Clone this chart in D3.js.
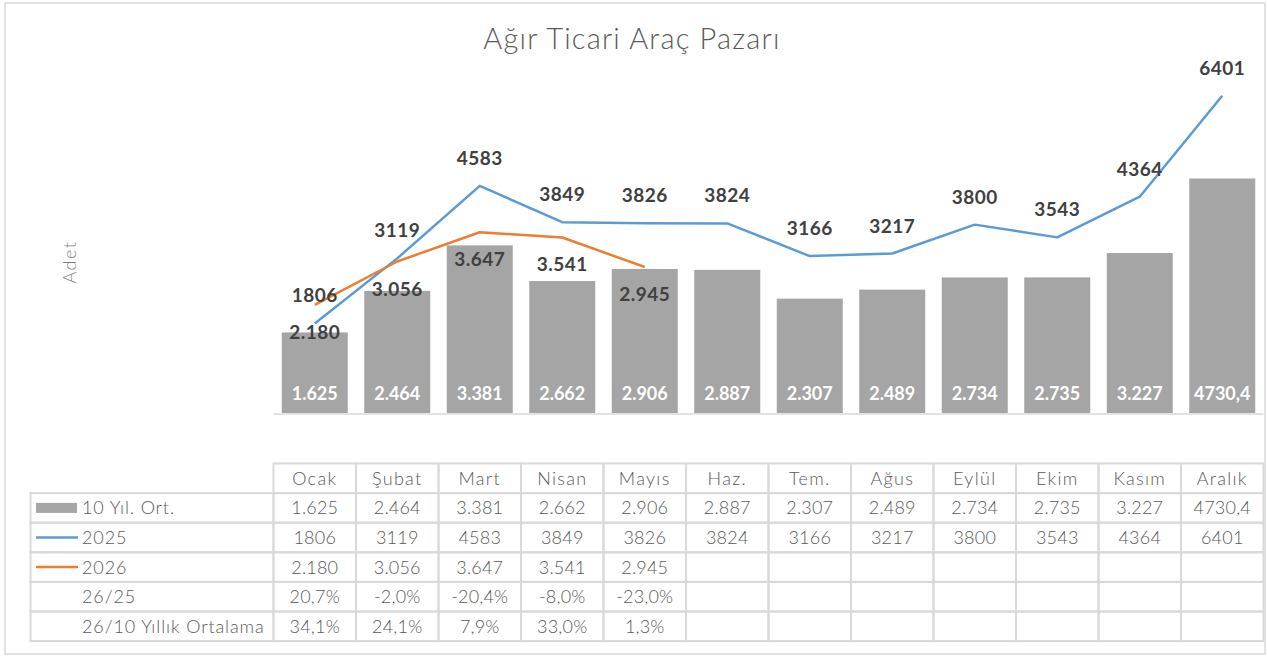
<!DOCTYPE html>
<html>
<head>
<meta charset="utf-8">
<script src="https://cdn.jsdelivr.net/npm/d3@7"></script>
<style>
  html, body { margin: 0; padding: 0; background: #fff; }
  svg { display: block; font-family: "Century Gothic", Lato, sans-serif; }
</style>
</head>
<body>
<svg id="chart" width="1268" height="658"></svg>
<script>
// Monthly heavy commercial vehicle market
const months = ["Ocak", "Şubat", "Mart", "Nisan", "Mayıs", "Haz.", "Tem.", "Ağus", "Eylül", "Ekim", "Kasım", "Aralık"];
const avg10 = [1625, 2464, 3381, 2662, 2906, 2887, 2307, 2489, 2734, 2735, 3227, 4730.4];
const sales2025 = [1806, 3119, 4583, 3849, 3826, 3824, 3166, 3217, 3800, 3543, 4364, 6401];
const sales2026 = [2180, 3056, 3647, 3541, 2945];
const chg2625 = [20.7, -2.0, -20.4, -8.0, -23.0];
const chg26avg = [34.1, 24.1, 7.9, 33.0, 1.3];
const rowLabels = ["10 Yıl. Ort.", "2025", "2026", "26/25", "26/10 Yıllık Ortalama"];

const C_BAR = "#a5a5a5", C_2025 = "#5b9bd5", C_2026 = "#ed7d31";
const C_TEXT = "#595959", C_GRID = "#d9d9d9", C_LABEL = "#404040";

const tr = d3.formatLocale({ decimal: ",", thousands: ".", grouping: [3], currency: ["", "₺"], minus: "-" });
const fInt = tr.format(",d");
const fDec = tr.format(".1f");
const fAvg = v => Number.isInteger(v) ? fInt(v) : fDec(v);
const fPct = v => fDec(v) + "%";

const svg = d3.select("#chart");

// outer frame
svg.append("rect").attr("x", 5).attr("y", 3).attr("width", 1260).attr("height", 651)
  .attr("fill", "none").attr("stroke", C_GRID).attr("stroke-width", 1.5);

const left = 273.5, right = 1263.5;
const x = d3.scaleBand().domain(months).range([left, right]).paddingInner(0.2).paddingOuter(0.1);
const xCol = d3.scaleBand().domain(months).range([left, right]);
const y = d3.scaleLinear().domain([0, 7000]).range([413, 66]);
const cx = m => x(m) + x.bandwidth() / 2;

// title
svg.append("text").attr("x", 632).attr("y", 49).attr("text-anchor", "middle")
  .attr("font-size", 29).attr("font-weight", 300).attr("letter-spacing", 1.2).attr("fill", C_TEXT)
  .text("Ağır Ticari Araç Pazarı");

// y axis title
svg.append("text").attr("transform", "translate(76,262) rotate(-90)").attr("text-anchor", "middle")
  .attr("font-size", 18).attr("font-weight", 300).attr("letter-spacing", 1.5).attr("fill", "#7f7f7f").text("Adet");

// bars
svg.append("g").selectAll("rect").data(avg10).join("rect")
  .attr("x", (d, i) => x(months[i])).attr("width", x.bandwidth())
  .attr("y", d => y(d)).attr("height", d => y(0) - y(d))
  .attr("fill", C_BAR);

// baseline
svg.append("line").attr("x1", left).attr("x2", right).attr("y1", y(0) + 1).attr("y2", y(0) + 1)
  .attr("stroke", C_GRID).attr("stroke-width", 1.5);

// bar value labels
svg.append("g").selectAll("text").data(avg10).join("text")
  .attr("x", (d, i) => cx(months[i])).attr("y", y(0) - 13)
  .attr("text-anchor", "middle").attr("font-size", 18).attr("font-weight", 700).attr("fill", "#fff")
  .text(d => fAvg(d));

// lines
const line = d3.line().x((d, i) => cx(months[i])).y(d => y(d));
svg.append("path").datum(sales2025).attr("d", line)
  .attr("fill", "none").attr("stroke", C_2025).attr("stroke-width", 2.5).attr("stroke-linejoin", "round");
svg.append("path").datum(sales2026).attr("d", line)
  .attr("fill", "none").attr("stroke", C_2026).attr("stroke-width", 2.5).attr("stroke-linejoin", "round");

// line value labels
svg.append("g").selectAll("text").data(sales2025).join("text")
  .attr("x", (d, i) => cx(months[i])).attr("y", d => y(d) - 21)
  .attr("text-anchor", "middle").attr("font-size", 19).attr("font-weight", 700).attr("letter-spacing", 0.5).attr("fill", C_LABEL)
  .text(d => d);
svg.append("g").selectAll("text").data(sales2026).join("text")
  .attr("x", (d, i) => cx(months[i])).attr("y", d => y(d) + 34)
  .attr("text-anchor", "middle").attr("font-size", 19).attr("font-weight", 700).attr("letter-spacing", 0.5).attr("fill", C_LABEL)
  .text(d => fInt(d));

// data table
const tableLeft = 30.5, headTop = 463.5, rowH = 29.6;
const rows = [
  avg10.map(fAvg),
  sales2025.map(String),
  sales2026.map(fInt),
  chg2625.map(fPct),
  chg26avg.map(fPct)
];
const tg = svg.append("g");
const gridStyle = s => s.attr("stroke", C_GRID).attr("stroke-width", 2).attr("fill", "none");

// header cells
months.forEach(m => {
  tg.append("rect").attr("x", xCol(m)).attr("y", headTop).attr("width", xCol.step()).attr("height", rowH).call(gridStyle);
  tg.append("text").attr("x", xCol(m) + xCol.step() / 2).attr("y", headTop + rowH / 2 + 6.5)
    .attr("text-anchor", "middle").attr("font-size", 18).attr("font-weight", 300).attr("letter-spacing", 1.3)
    .attr("fill", C_TEXT).text(m);
});

// body rows
rows.forEach((vals, r) => {
  const top = headTop + rowH * (r + 1);
  tg.append("rect").attr("x", tableLeft).attr("y", top).attr("width", left - tableLeft).attr("height", rowH).call(gridStyle);
  months.forEach((m, i) => {
    tg.append("rect").attr("x", xCol(m)).attr("y", top).attr("width", xCol.step()).attr("height", rowH).call(gridStyle);
    if (vals[i] !== undefined) {
      tg.append("text").attr("x", xCol(m) + xCol.step() / 2).attr("y", top + rowH / 2 + 6.5)
        .attr("text-anchor", "middle").attr("font-size", 18).attr("font-weight", 300).attr("letter-spacing", 0.2)
        .attr("fill", C_TEXT).text(vals[i]);
    }
  });
  tg.append("text").attr("x", 82).attr("y", top + rowH / 2 + 6.5)
    .attr("font-size", 18).attr("font-weight", 300).attr("letter-spacing", 0.9)
    .attr("fill", C_TEXT).text(rowLabels[r]);
});

// legend keys in the row headers
const keyY = r => headTop + rowH * (r + 1) + rowH / 2;
tg.append("rect").attr("x", 36).attr("y", keyY(0) - 5).attr("width", 41).attr("height", 10).attr("fill", C_BAR);
tg.append("line").attr("x1", 36).attr("x2", 78).attr("y1", keyY(1)).attr("y2", keyY(1)).attr("stroke", C_2025).attr("stroke-width", 2.5);
tg.append("line").attr("x1", 36).attr("x2", 78).attr("y1", keyY(2)).attr("y2", keyY(2)).attr("stroke", C_2026).attr("stroke-width", 2.5);
</script>
</body>
</html>
